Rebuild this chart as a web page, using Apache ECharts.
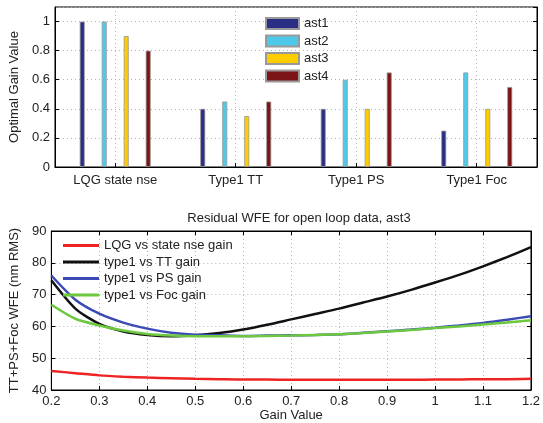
<!DOCTYPE html>
<html>
<head>
<meta charset="utf-8">
<script src="https://cdn.jsdelivr.net/npm/echarts@6/dist/echarts.min.js"></script>
<style>
  html, body { margin: 0; padding: 0; background: #fff; }
  #main { width: 543px; height: 423px; }
</style>
</head>
<body>
<div id="main"></div>
<script>
// top panel: optimal gains
var groups = ['LQG state nse', 'Type1 TT', 'Type1 PS', 'Type1 Foc'];
var ast1 = [1.0, 0.40, 0.40, 0.25];
var ast2 = [1.0, 0.45, 0.60, 0.65];
var ast3 = [0.9, 0.35, 0.40, 0.40];
var ast4 = [0.8, 0.45, 0.65, 0.55];

// bottom panel: residual WFE vs gain
var gains = [0.2, 0.25, 0.3, 0.35, 0.4, 0.45, 0.5, 0.55, 0.6, 0.65, 0.7,
             0.75, 0.8, 0.85, 0.9, 0.95, 1.0, 1.05, 1.1, 1.15, 1.2];
var lqgWfe = [46.0, 45.3, 44.6, 44.2, 43.9, 43.7, 43.5, 43.4, 43.3, 43.3, 43.2,
              43.2, 43.2, 43.2, 43.2, 43.2, 43.3, 43.3, 43.4, 43.4, 43.5];
var ttWfe = [74.5, 65.6, 60.8, 58.4, 57.3, 56.9, 57.2, 57.9, 59.0, 60.5, 62.2,
             63.9, 65.6, 67.5, 69.4, 71.5, 73.8, 76.2, 78.9, 81.8, 84.9];
var psWfe = [76.0, 68.4, 64.0, 61.2, 59.3, 58.0, 57.4, 57.2, 57.0, 57.1, 57.2,
             57.3, 57.5, 58.0, 58.5, 59.0, 59.6, 60.3, 61.1, 62.1, 63.2];
var focWfe = [66.8, 62.4, 60.3, 58.7, 57.6, 57.1, 56.9, 56.9, 56.9, 57.0, 57.1,
              57.3, 57.5, 57.9, 58.4, 58.9, 59.5, 60.0, 60.6, 61.2, 61.9];

function pairs(ys) {
  return gains.map(function (g, i) { return [g, ys[i]]; });
}

var font = 'Liberation Sans';
var gridLine = { show: true, lineStyle: { color: '#b0b0b0', type: [1, 3], width: 1 } };
var blackLine = { show: true, lineStyle: { color: '#000', width: 1 } };
var inTick = { show: true, inside: true, length: 4, lineStyle: { color: '#000' } };

function barSeries(name, data, color) {
  return {
    name: name, type: 'bar', xAxisIndex: 0, yAxisIndex: 0,
    data: data, barWidth: 5, barGap: '340%',
    itemStyle: { color: color, borderColor: '#999', borderWidth: 0.8 }
  };
}
function lineSeries(name, data, color) {
  return {
    name: name, type: 'line', xAxisIndex: 1, yAxisIndex: 2,
    data: pairs(data), symbol: 'none', smooth: 0.25,
    lineStyle: { color: color, width: 2.5 }, itemStyle: { color: color }
  };
}

var chart = echarts.init(document.getElementById('main'));
chart.setOption({
  animation: false,
  textStyle: { fontFamily: font },
  title: {
    text: 'Residual WFE for open loop data, ast3',
    left: 294, top: 207, textAlign: 'center',
    textStyle: { fontFamily: font, fontSize: 13, fontWeight: 'normal', color: '#222' }
  },
  grid: [
    { left: 50, right: 6, top: 7, height: 160, show: true, borderColor: '#000', borderWidth: 1 },
    { left: 50, right: 6, top: 231, height: 160, show: true, borderColor: '#000', borderWidth: 1 }
  ],
  legend: [
    {
      data: ['ast1', 'ast2', 'ast3', 'ast4'], orient: 'vertical', icon: 'rect',
      left: 265, top: 17, padding: 0, itemWidth: 33, itemHeight: 11, itemGap: 4.5,
      textStyle: { fontFamily: font, fontSize: 13, color: '#222' }
    },
    {
      data: ['LQG vs state nse gain', 'type1 vs TT gain', 'type1 vs PS gain', 'type1 vs Foc gain'],
      orient: 'vertical', icon: 'rect', left: 63, top: 239, padding: 0,
      itemWidth: 36, itemHeight: 3, itemGap: 3.5,
      textStyle: { fontFamily: font, fontSize: 13, color: '#222', lineHeight: 12 }
    }
  ],
  xAxis: [
    {
      type: 'category', gridIndex: 0, data: groups, boundaryGap: true,
      axisLine: blackLine,
      axisTick: { show: true, inside: true, length: 4, alignWithLabel: true, lineStyle: { color: '#000' } },
      splitLine: { show: true, alignWithLabel: true, lineStyle: { color: '#b0b0b0', type: [1, 3] } },
      axisLabel: { fontFamily: font, fontSize: 13, color: '#222', margin: 7 }
    },
    {
      type: 'value', gridIndex: 1, min: 0.2, max: 1.2, interval: 0.1,
      name: 'Gain Value', nameLocation: 'middle', nameGap: 19,
      nameTextStyle: { fontFamily: font, fontSize: 13, color: '#222' },
      axisLine: blackLine, axisTick: inTick, splitLine: gridLine,
      axisLabel: {
        fontFamily: font, fontSize: 13, color: '#222', margin: 5,
        formatter: function (v) { return String(+v.toFixed(1)); }
      }
    },
    {
      type: 'value', gridIndex: 1, position: 'top', min: 0.2, max: 1.2, interval: 0.1,
      axisLine: blackLine, axisTick: inTick, splitLine: { show: false }, axisLabel: { show: false }
    }
  ],
  yAxis: [
    {
      type: 'value', gridIndex: 0, min: 0, max: 1.1, interval: 0.2,
      name: 'Optimal Gain Value', nameLocation: 'middle', nameGap: 23,
      nameTextStyle: { fontFamily: font, fontSize: 13, color: '#222' },
      axisLine: blackLine, axisTick: inTick, splitLine: gridLine,
      axisLabel: {
        fontFamily: font, fontSize: 13, color: '#222', margin: 5, showMaxLabel: false,
        formatter: function (v) { return v > 1.05 ? '' : String(+v.toFixed(1)); }
      }
    },
    {
      type: 'value', gridIndex: 0, position: 'right', min: 0, max: 1.1, interval: 0.2,
      axisLine: blackLine, axisTick: inTick, splitLine: { show: false }, axisLabel: { show: false }
    },
    {
      type: 'value', gridIndex: 1, min: 40, max: 90, interval: 10,
      name: 'TT+PS+Foc WFE (nm RMS)', nameLocation: 'middle', nameGap: 20,
      nameTextStyle: { fontFamily: font, fontSize: 13, color: '#222' },
      axisLine: blackLine, axisTick: inTick, splitLine: gridLine,
      axisLabel: { fontFamily: font, fontSize: 13, color: '#222', margin: 5 }
    },
    {
      type: 'value', gridIndex: 1, position: 'right', min: 40, max: 90, interval: 10,
      axisLine: blackLine, axisTick: inTick, splitLine: { show: false }, axisLabel: { show: false }
    }
  ],
  series: [
    barSeries('ast1', ast1, '#2a2e85'),
    barSeries('ast2', ast2, '#4fc9ea'),
    barSeries('ast3', ast3, '#ffcc00'),
    barSeries('ast4', ast4, '#7c1517'),
    lineSeries('LQG vs state nse gain', lqgWfe, '#ee2424'),
    lineSeries('type1 vs TT gain', ttWfe, '#111111'),
    lineSeries('type1 vs PS gain', psWfe, '#3b4bb3'),
    lineSeries('type1 vs Foc gain', focWfe, '#6cc83f')
  ]
});
</script>
</body>
</html>
